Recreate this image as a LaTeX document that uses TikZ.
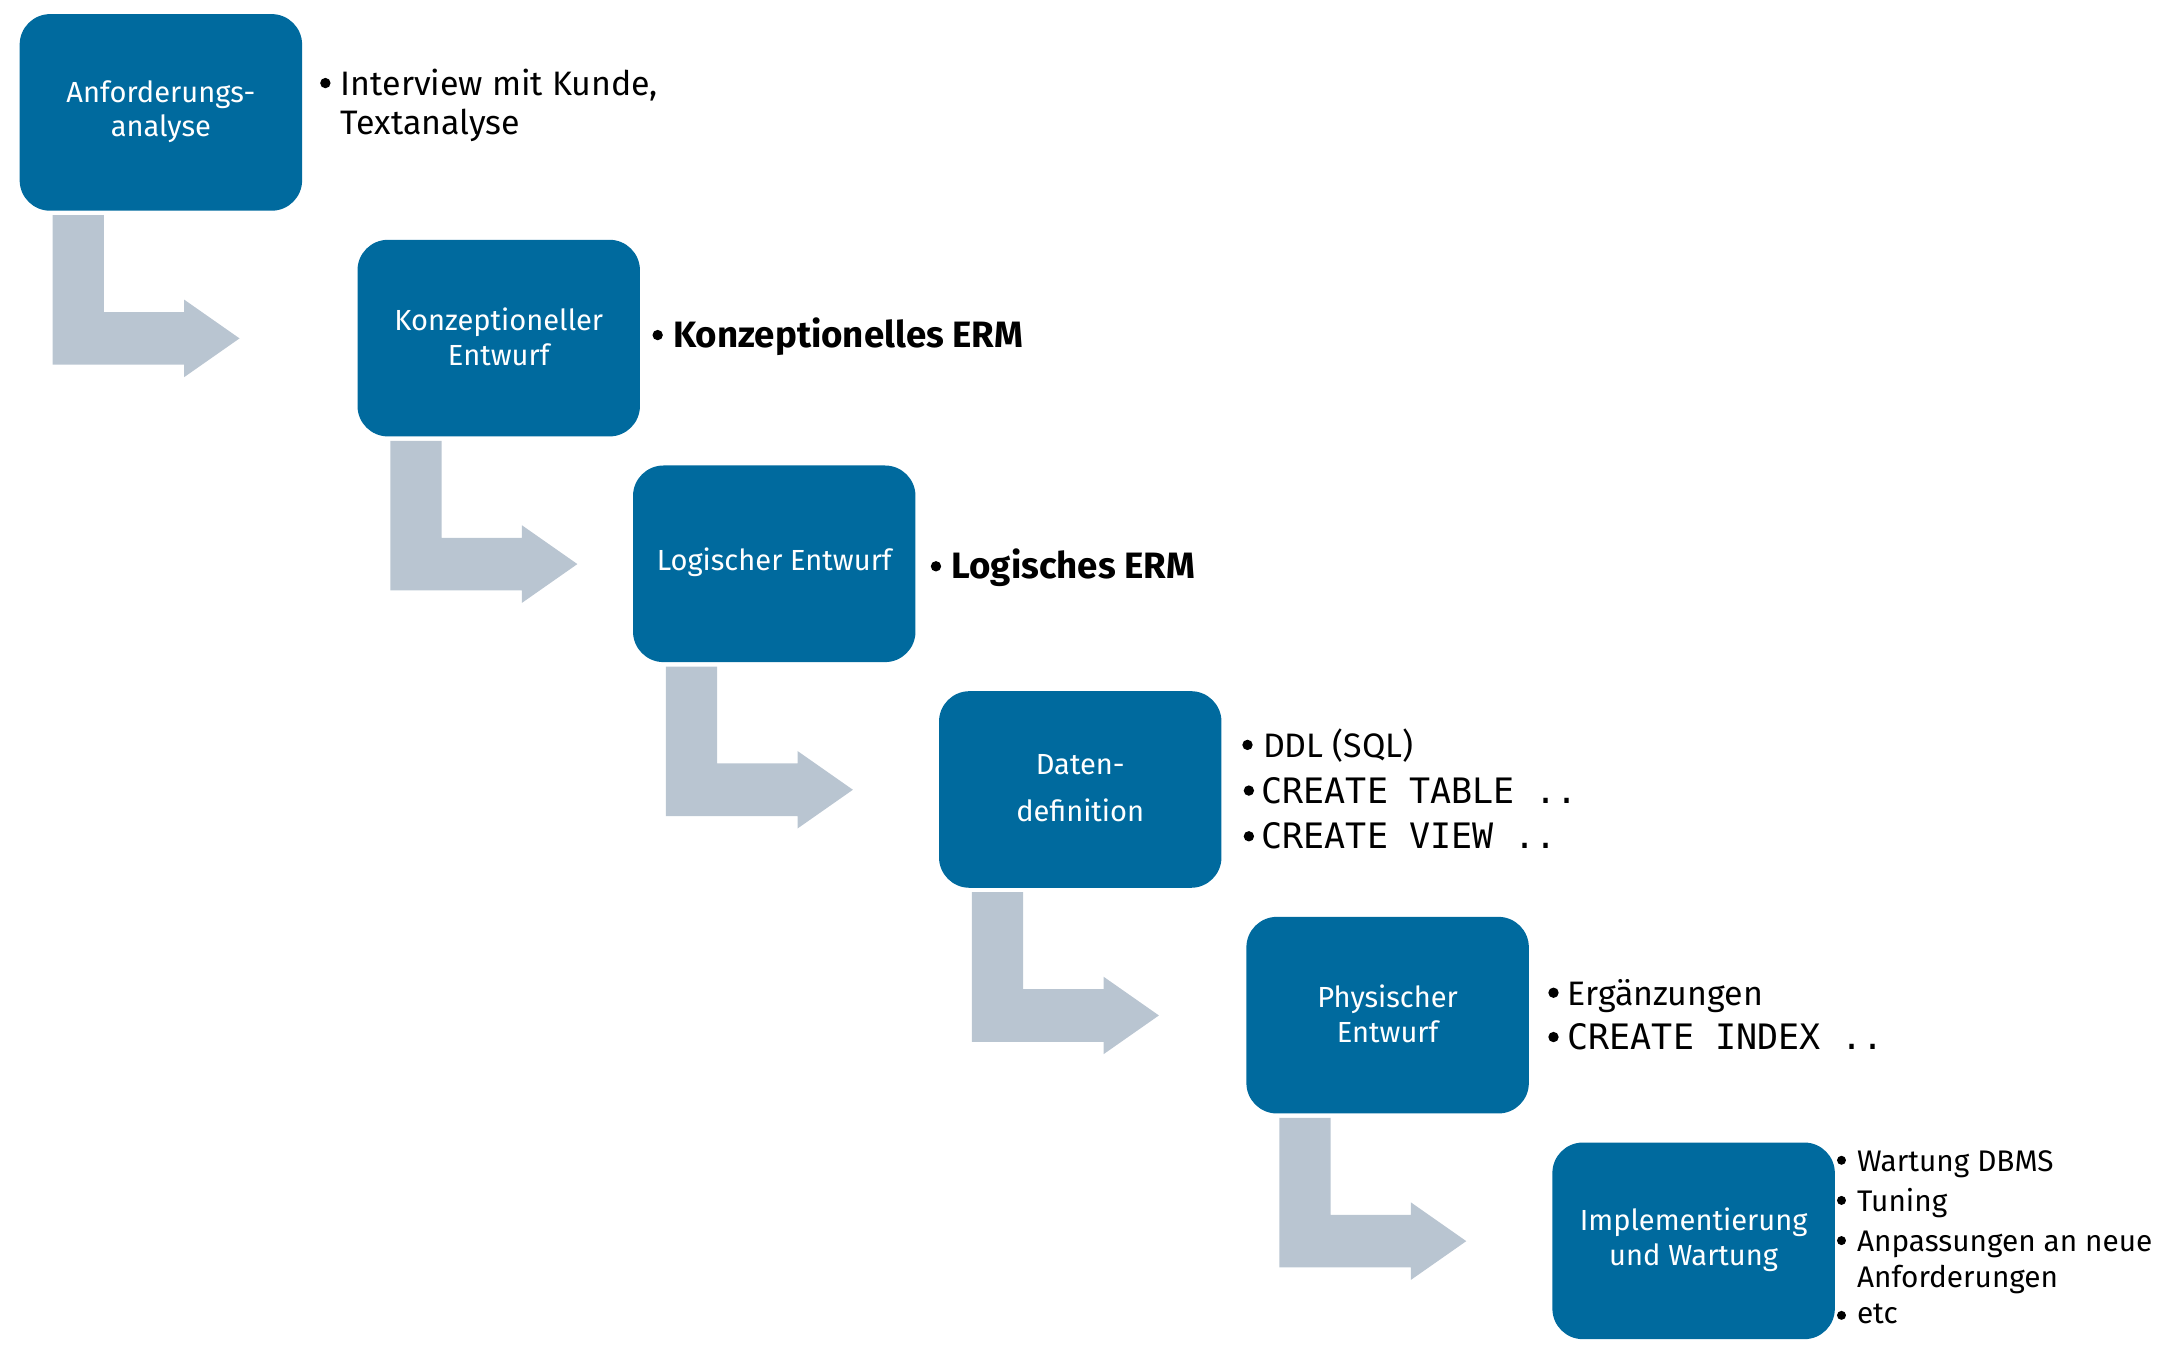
\documentclass[tikz,border=0pt]{standalone}
\usepackage{fontspec}
\setmainfont{Fira Sans}
\setmonofont{DejaVu Sans Mono}
\usetikzlibrary{calc}
\definecolor{boxblue}{RGB}{0,106,158}
\definecolor{arrowgray}{RGB}{185,197,209}
\newcommand\bentarrow[1]{%
  \fill[arrowgray, shift={(#1.south west)}]
    (24,3) -- (61,3) -- (61,73) -- (119,73) -- (119,64) -- (159,92)
    -- (119,120) -- (119,111) -- (24,111) -- cycle;}
\begin{document}
\begin{tikzpicture}[x=1pt,y=-1pt,
  stage/.style={fill=boxblue, rounded corners=22pt, minimum width=204pt,
    minimum height=142pt, inner sep=0pt, anchor=north west},
  stagetext/.style={text=white, font=\fontsize{21}{25}\selectfont, align=center, inner sep=0pt},
  txt/.style={anchor=base west, inner sep=0pt, font=\fontsize{24.5}{28}\selectfont},
  btxt/.style={txt, font=\fontsize{26.5}{28}\selectfont\bfseries},
  mtxt/.style={anchor=base west, inner sep=0pt, font=\fontsize{25.3}{28}\selectfont\ttfamily},
  stxt/.style={anchor=base west, inner sep=0pt, font=\fontsize{21.5}{26}\selectfont},
  dot/.style={circle, fill=black, inner sep=0pt, minimum size=7.5pt},
  sdot/.style={circle, fill=black, inner sep=0pt, minimum size=6.5pt}
]
\useasboundingbox (0,0) rectangle (1568,975.7);
% stages
\node[stage] (s1) at (14,10) {};
\node[stage] (s2) at (258,173) {};
\node[stage] (s3) at (457,336) {};
\node[stage] (s4) at (678,499) {};
\node[stage] (s5) at (900,662) {};
\node[stage] (s6) at (1121,825) {};
\node[stagetext] (l1) at ([yshift=0.5pt]s1.center) {Anforderungs-\\analyse};
\node[stagetext] (l2) at ([yshift=1pt]s2.center) {Konzeptioneller\\Entwurf};
\node[stagetext] (l3) at ([yshift=1pt]s3.center) {Logischer Entwurf};
\node[stagetext] (l4) at ([yshift=1pt]s4.center) {Daten-\\[9pt]definition};
\node[stagetext] (l5) at ([yshift=1pt]s5.center) {Physischer\\Entwurf};
\node[stagetext] (l6) at ([yshift=1pt]s6.center) {Implementierung\\und Wartung};
% bent arrows
\bentarrow{s1}
\bentarrow{s2}
\bentarrow{s3}
\bentarrow{s4}
\bentarrow{s5}
% notes stage 1
\node[dot] (b1a) at (235,60) {};
\node[txt] (t1a) at (246,69) {Interview mit Kunde,};
\node[txt] (t1b) at (246,97) {Textanalyse};
% notes stage 2
\node[dot] (b2a) at (475,242) {};
\node[btxt] (t2a) at (486,251) {Konzeptionelles ERM};
% notes stage 3
\node[dot] (b3a) at (676,409) {};
\node[btxt] (t3a) at (687,418) {Logisches ERM};
% notes stage 4
\node[dot] (b4a) at (901,538) {};
\node[txt] (t4a) at (912,547) {DDL (SQL)};
\node[dot] (b4b) at (902,571) {};
\node[mtxt] (t4b) at (911,580) {CREATE TABLE ..};
\node[dot] (b4c) at (902,604) {};
\node[mtxt] (t4c) at (911,613) {CREATE VIEW ..};
% notes stage 5
\node[dot] (b5a) at (1122,717) {};
\node[txt] (t5a) at (1132,726) {Ergänzungen};
\node[dot] (b5b) at (1122,749) {};
\node[mtxt] (t5b) at (1132,758) {CREATE INDEX ..};
% notes stage 6
\node[sdot] (b6a) at (1330,838) {};
\node[stxt] (t6a) at (1341,846) {Wartung DBMS};
\node[sdot] (b6b) at (1330,867) {};
\node[stxt] (t6b) at (1341,875) {Tuning};
\node[sdot] (b6c) at (1330,896) {};
\node[stxt] (t6c) at (1341,904) {Anpassungen an neue};
\node[stxt] (t6d) at (1341,930) {Anforderungen};
\node[sdot] (b6e) at (1330,950) {};
\node[stxt] (t6e) at (1341,956) {etc};
\end{tikzpicture}
\end{document}
